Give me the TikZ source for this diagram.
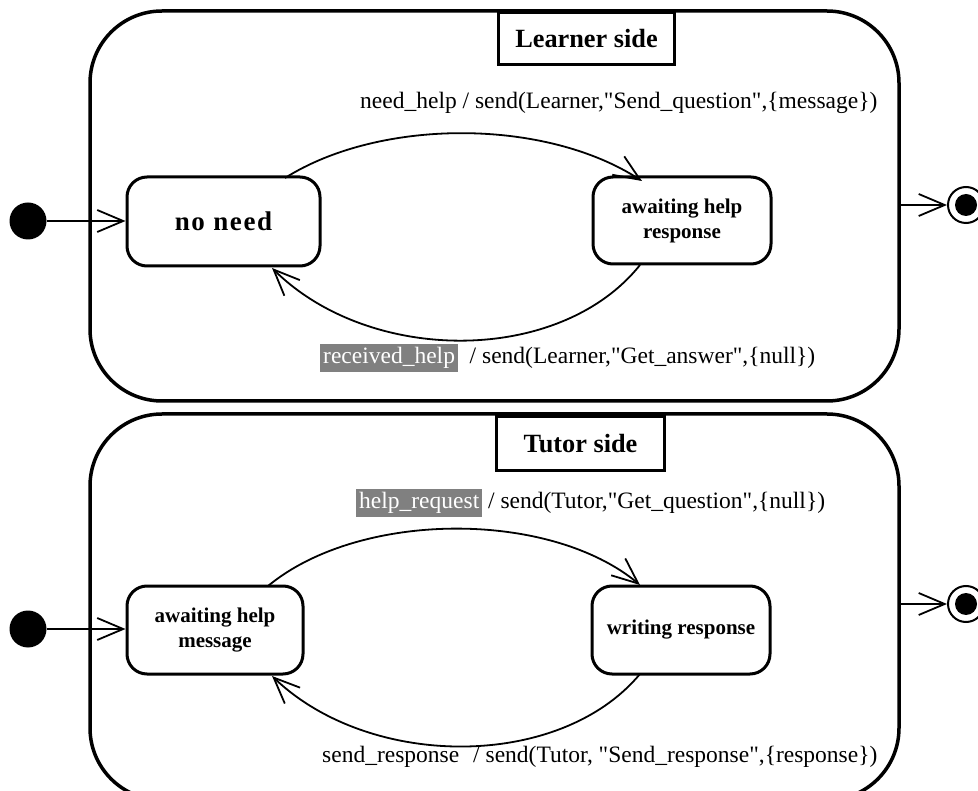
\documentclass[tikz,border=0pt]{standalone}
\usepackage{fontspec}
\setmainfont{Liberation Serif}[Ligatures=TeXOff]
\usetikzlibrary{arrows.meta}
\definecolor{hl}{HTML}{808080}
\tikzset{
  region/.style={draw, line width=3.5pt, rounded corners=72pt},
  titlebox/.style={draw, line width=3pt, fill=white, font=\bfseries\fontsize{26.3}{30}\selectfont},
  statebox/.style={draw, line width=3pt, rounded corners=20pt, align=center, font=\bfseries\fontsize{21}{25}\selectfont},
  lbl/.style={font=\fontsize{23.5}{26}\selectfont, inner sep=0pt},
  trans/.style={line width=1.8pt, -{Straight Barb[length=26pt,width=22pt,line width=1.8pt]}},
  initial/.style={circle, fill=black, minimum size=37pt, inner sep=0pt},
  finalring/.style={circle, draw, line width=2pt, minimum size=36pt, inner sep=0pt},
  finaldot/.style={circle, fill=black, minimum size=22pt, inner sep=0pt},
}
\begin{document}
\begin{tikzpicture}[x=1pt,y=-1pt]
\useasboundingbox (0,0) rectangle (978,791);
\clip (0,0) rectangle (978,791);
\fboxsep=3pt
% regions
\draw[region] (90,11) rectangle (899,401);
\draw[region] (90,414) rectangle (899,800);
\node[titlebox, minimum width=176pt, minimum height=52pt, anchor=north west] (lt) at (497,11) {Learner side};
\node[titlebox, minimum width=168pt, minimum height=54pt, anchor=north west] (tt) at (495,415) {Tutor side};
% states learner
\node[statebox, minimum width=193pt, minimum height=89pt] (nn) at (223.5,221.5) {\fontsize{27}{30}\selectfont\addfontfeature{LetterSpace=6}no need};
\node[statebox, minimum width=178pt, minimum height=87pt] (ah) at (682,220.5) {awaiting help\\response};
% states tutor
\node[statebox, minimum width=176pt, minimum height=88pt] (am) at (215,630) {awaiting help\\message};
\node[statebox, minimum width=178pt, minimum height=88pt] (wr) at (681,630) {writing response};
% initial / final
\node[initial] (i1) at (28,221) {};
\node[initial] (i2) at (28,629) {};
\coordinate (e1) at (899,205);
\coordinate (e2) at (899,604);
\node[finalring] (f1) at (966,205) {};
\node[finaldot] at (f1) {};
\node[finalring] (f2) at (966,604) {};
\node[finaldot] at (f2) {};
\draw[trans] (i1) -- (nn.west |- i1);
\draw[trans] (i2) -- (am.west |- i2);
\draw[trans] (e1) -- (f1);
\draw[trans] (e2) -- (f2);
% transitions
\coordinate (a1) at (285,178);
\coordinate (a2) at (642,181);
\draw[trans] (a1) .. controls (380,118) and (545,118) .. (a2);
\coordinate (b1) at (640,265);
\coordinate (b2) at (272,268);
\draw[trans] (b1) .. controls (560,365) and (370,365) .. (b2);
\coordinate (c1) at (268,586);
\coordinate (c2) at (640,585);
\draw[trans] (c1) .. controls (360,510) and (550,510) .. (c2);
\coordinate (d1) at (640,674);
\coordinate (d2) at (272,676);
\draw[trans] (d1) .. controls (560,770) and (370,770) .. (d2);
% labels
\node[lbl, anchor=west] (l1) at (360,103) {need\_help / send(Learner,"Send\_question",\{message\})};
\node[lbl, anchor=west] (l2) at (320,358) {\colorbox{hl}{\textcolor{white}{received\_help}}\ \ / send(Learner,"Get\_answer",\{null\})};
\node[lbl, anchor=west] (l3) at (356,503) {\colorbox{hl}{\textcolor{white}{help\_request}} / send(Tutor,"Get\_question",\{null\})};
\node[lbl, anchor=west] (l4) at (322,757) {send\_response\hspace{14pt}/ send(Tutor, "Send\_response",\{response\})};
\end{tikzpicture}
\end{document}
